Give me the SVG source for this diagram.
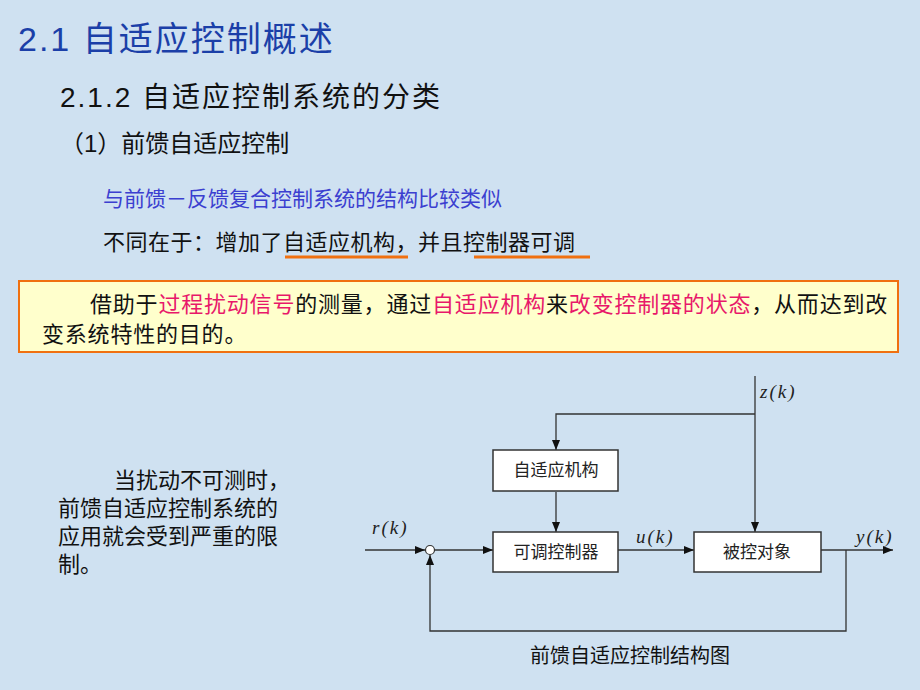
<svg xmlns="http://www.w3.org/2000/svg" width="920" height="690" viewBox="0 0 920 690">
<defs>
<style>
text{font-family:"Liberation Sans","Noto Sans CJK SC",sans-serif;}
.it{font-family:"Liberation Serif",serif;font-style:italic;font-size:19px;fill:#222;letter-spacing:2px;}
.box{fill:#fff;stroke:#333;stroke-width:1.5;}
.ln{fill:none;stroke:#333;stroke-width:1.3;}
.bt{font-size:17px;fill:#222;text-anchor:middle;}
.red{fill:#e8186a;}
</style>
<marker id="ar" viewBox="0 0 10 10" refX="10" refY="5" markerWidth="10" markerHeight="10" markerUnits="userSpaceOnUse" orient="auto"><path d="M0,1 L10,5 L0,9Z" fill="#111"/></marker>
</defs>
<rect width="920" height="690" fill="#cfe1f1"/>
<text x="18" y="51" font-size="34" fill="#1b3fa8" letter-spacing="2">2.1  自适应控制概述</text>
<text x="60" y="107" font-size="28" fill="#111" letter-spacing="2">2.1.2 自适应控制系统的分类</text>
<text x="60" y="152" font-size="24" fill="#111">（1）前馈自适应控制</text>
<text x="103" y="206" font-size="21" fill="#3b3fd0">与前馈－反馈复合控制系统的结构比较类似</text>
<text x="103" y="250" font-size="22" fill="#111" letter-spacing="0.5">不同在于：增加了自适应机构，并且控制器可调</text>
<line x1="285" y1="257" x2="408" y2="257" stroke="#f07010" stroke-width="3"/>
<line x1="474" y1="257" x2="590" y2="257" stroke="#f07010" stroke-width="3"/>
<rect x="19" y="281" width="879" height="71" fill="#ffffcc" stroke="#f07010" stroke-width="2"/>
<text x="90" y="312" font-size="22" fill="#111" letter-spacing="0.8">借助于<tspan class="red">过程扰动信号</tspan>的测量，通过<tspan class="red">自适应机构</tspan>来<tspan class="red">改变控制器的状态</tspan>，从而达到改</text>
<text x="42" y="342" font-size="22" fill="#111" letter-spacing="0.8">变系统特性的目的。</text>
<text font-size="22" fill="#111"><tspan x="114" y="488">当扰动不可测时，</tspan><tspan x="58" y="516">前馈自适应控制系统的</tspan><tspan x="58" y="544">应用就会受到严重的限</tspan><tspan x="58" y="572">制。</tspan></text>
<g id="connectors">
<line class="ln" x1="365" y1="550" x2="425" y2="550" marker-end="url(#ar)"/>
<line class="ln" x1="435" y1="550" x2="493" y2="550" marker-end="url(#ar)"/>
<line class="ln" x1="618" y1="550" x2="694" y2="550" marker-end="url(#ar)"/>
<line class="ln" x1="821" y1="550" x2="893" y2="550" marker-end="url(#ar)"/>
<polyline class="ln" points="846,550 846,631 430,631 430,555" marker-end="url(#ar)"/>
<line class="ln" x1="755" y1="376" x2="755" y2="532" marker-end="url(#ar)"/>
<polyline class="ln" points="755,414 556,414 556,450" marker-end="url(#ar)"/>
<line class="ln" x1="556" y1="492" x2="556" y2="532" marker-end="url(#ar)"/>
</g>
<circle cx="430" cy="550" r="4.5" fill="#fff" stroke="#333" stroke-width="1.2"/>
<g id="n1"><rect class="box" x="493" y="450" width="125" height="41"/><text class="bt" x="556" y="476">自适应机构</text></g>
<g id="n2"><rect class="box" x="493" y="532" width="125" height="40"/><text class="bt" x="556" y="558">可调控制器</text></g>
<g id="n3"><rect class="box" x="694" y="532" width="127" height="40"/><text class="bt" x="757" y="558">被控对象</text></g>
<text class="it" x="372" y="534">r(k)</text>
<text class="it" x="636" y="543">u(k)</text>
<text class="it" x="856" y="543">y(k)</text>
<text class="it" x="760" y="398">z(k)</text>
<text x="630" y="663" font-size="20" fill="#111" text-anchor="middle">前馈自适应控制结构图</text>
</svg>
